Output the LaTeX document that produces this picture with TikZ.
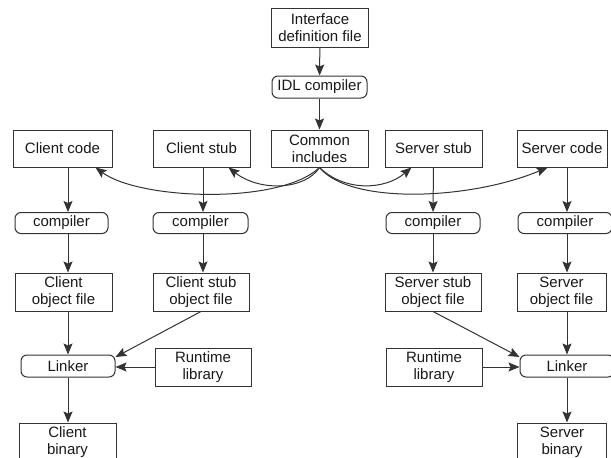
\documentclass[tikz,border=0pt]{standalone}
\usepackage{fontspec}
\setmainfont{Liberation Sans}
\usetikzlibrary{arrows.meta}
\begin{document}
\begin{tikzpicture}[x=1pt,y=-1pt,
  box/.style={draw=black!80, line width=1pt, minimum width=97pt, minimum height=38pt,
    align=center, inner sep=0pt, font=\fontsize{15}{17}\selectfont, text=black!90},
  proc/.style={box, rounded corners=6pt, minimum height=21pt},
  arr/.style={draw=black!80, line width=1pt, -{Stealth[length=11pt,width=9pt,inset=2pt]}},
]
\useasboundingbox (0,0) rectangle (611,458);
\clip (0,0) rectangle (611,458);

% top chain
\node[box, minimum height=39pt] (idf) at (320,27.5) {Interface\\definition file};
\node[proc, minimum width=95pt, minimum height=22pt] (idl) at (319.5,87) {IDL compiler};
\node[box, minimum height=37pt] (common) at (319.5,148.5) {Common\\includes};

% sources
\node[box, minimum width=99pt, minimum height=37pt] (ccode) at (62.5,148.5) {Client code};
\node[box, minimum height=37pt] (cstub) at (201.5,148.5) {Client stub};
\node[box, minimum height=37pt] (sstub) at (433.5,148.5) {Server stub};
\node[box, minimum width=90pt, minimum height=37pt] (scode) at (562,148.5) {Server code};

% compilers
\node[proc, minimum width=93pt] (ccomp) at (61.5,223) {compiler};
\node[proc, minimum width=95pt] (cscomp) at (200.5,223) {compiler};
\node[proc, minimum width=94pt] (sscomp) at (433,223) {compiler};
\node[proc, minimum width=94pt] (scomp) at (565,223) {compiler};

% object files
\node[box] (cobj) at (63.5,292) {Client\\object file};
\node[box, minimum width=96pt] (csobj) at (201,292) {Client stub\\object file};
\node[box, minimum width=96pt] (ssobj) at (433,292) {Server stub\\object file};
\node[box, minimum width=89pt] (sobj) at (561.5,292) {Server\\object file};

% linking
\node[proc, minimum width=94pt, minimum height=22pt] (clink) at (68,366) {Linker};
\node[box, minimum width=96pt] (crt) at (203,367) {Runtime\\library};
\node[box, minimum width=96pt] (srt) at (434,367) {Runtime\\library};
\node[proc, minimum width=94pt, minimum height=22pt] (slink) at (567,366) {Linker};

% binaries
\node[box] (cbin) at (67.5,442) {Client\\binary};
\node[box, minimum width=89pt] (sbin) at (562,442) {Server\\binary};

% IDL chain
\draw[arr] (idf) -- (idl);
\draw[arr] (idl) -- (common);

% generated includes
\draw[arr] (common.south) .. controls (280,205) and (140,200) .. ([xshift=-17pt]ccode.south east);
\draw[arr] (common.south) .. controls (305,190) and (260,192) .. ([xshift=-22pt]cstub.south east);
\draw[arr] (common.south) .. controls (345,192) and (385,190) .. ([xshift=27pt]sstub.south west);
\draw[arr] (common.south) .. controls (350,205) and (470,200) .. ([xshift=31pt]scode.south west);

% client column
\draw[arr] (ccode.south -| clink) -- (ccomp.north -| clink);
\draw[arr] (ccomp.south -| clink) -- (cobj.north -| clink);
\draw[arr] (cobj.south -| clink) -- (clink.north);
\draw[arr] (clink.south) -- (cbin.north -| clink);

% client stub column
\draw[arr] (cstub.south -| crt) -- (cscomp.north -| crt);
\draw[arr] (cscomp.south -| crt) -- (csobj.north -| crt);
\draw[arr] (csobj.south) -- ([yshift=9pt]clink.east);
\draw[arr] (crt.west) -- (crt.west -| clink.east);

% server stub column
\draw[arr] (sstub.south) -- (sscomp.north);
\draw[arr] (sscomp.south) -- (ssobj.north);
\draw[arr] (ssobj.south) -- ([yshift=9pt]slink.west);
\draw[arr] (srt.east) -- (srt.east -| slink.west);

% server column
\draw[arr] (scode.south -| slink) -- (scomp.north -| slink);
\draw[arr] (scomp.south -| slink) -- (sobj.north -| slink);
\draw[arr] (sobj.south -| slink) -- (slink.north);
\draw[arr] (slink.south) -- (sbin.north -| slink);
\end{tikzpicture}
\end{document}
